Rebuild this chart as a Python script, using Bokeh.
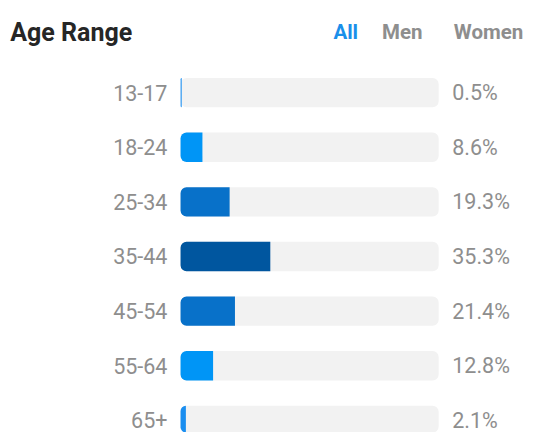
from bokeh.plotting import figure
from bokeh.models import Range1d, Label, ColumnDataSource
from bokeh.core.properties import value
from bokeh.embed import file_html
from bokeh.resources import INLINE

# ---- data ----
categories = ["13-17", "18-24", "25-34", "35-44", "45-54", "55-64", "65+"]
values = [0.5, 8.6, 19.3, 35.3, 21.4, 12.8, 2.1]
bar_colors = ["#3b9ef2", "#0095f6", "#0871c9", "#00569f", "#0871c9", "#0095f6", "#1a8ef0"]
tabs = ["All", "Men", "Women"]
track_max = 101.5

rows = list(range(len(categories)))
pct_labels = [f"{v}%" for v in values]

# ---- layout (reference pixel geometry scaled to the figure) ----
W, H = 528, 432
sx, sy = W / 544, H / 448
px_per_unit_x = 2.62 * sx
x_zero_px = 185.5 * sx
x_start = -x_zero_px / px_per_unit_x
x_end = x_start + W / px_per_unit_x
row_px = 56.65 * sy
first_row_px = 95.5 * sy
y_end = -first_row_px / row_px
y_start = y_end + H / row_px

p = figure(width=W, height=H, output_backend="svg", toolbar_location=None,
           x_range=Range1d(x_start, x_end), y_range=Range1d(y_start, y_end),
           min_border=0, background_fill_color="white", border_fill_color="white")
p.axis.visible = False
p.grid.visible = False
p.outline_line_color = None

src = ColumnDataSource(dict(y=rows, v=values, c=bar_colors, cat=categories,
                            lab=pct_labels, tm=[track_max] * len(rows), z=[0] * len(rows)))

bar_h = 30.5 * sy / row_px
p.hbar(y="y", left="z", right="tm", height=bar_h, source=src,
       fill_color="#f2f2f2", line_color=None, border_radius=6)
p.hbar(y="y", left="z", right="v", height=bar_h, source=src,
       fill_color="c", line_color=None, border_radius=(6, 0, 0, 6))

p.text(x="z", y="y", text="cat", source=src, x_offset=-13.5 * sx,
       text_align="right", text_baseline="middle",
       text_font=value("Roboto"), text_font_size="21.5px", text_color="#8e8e8e")
p.text(x="tm", y="y", text="lab", source=src, x_offset=14 * sx,
       text_align="left", text_baseline="middle",
       text_font=value("Roboto"), text_font_size="21.5px", text_color="#8e8e8e")

base_y = H - 33 * sy
p.add_layout(Label(x=10 * sx, y=base_y, x_units="screen", y_units="screen", text="Age Range",
                   text_font="Roboto", text_font_style="bold", text_font_size="25px",
                   text_color="#262626", text_baseline="alphabetic"))
tab_x = [343, 393, 467]
tab_colors = ["#1a8fea", "#8e8e8e", "#8e8e8e"]
for t, tx, tc in zip(tabs, tab_x, tab_colors):
    p.add_layout(Label(x=tx * sx, y=base_y, x_units="screen", y_units="screen", text=t,
                       text_font="Roboto", text_font_style="bold", text_font_size="20.5px",
                       text_color=tc, text_baseline="alphabetic"))

open("out.html", "w").write(file_html(p, INLINE))
